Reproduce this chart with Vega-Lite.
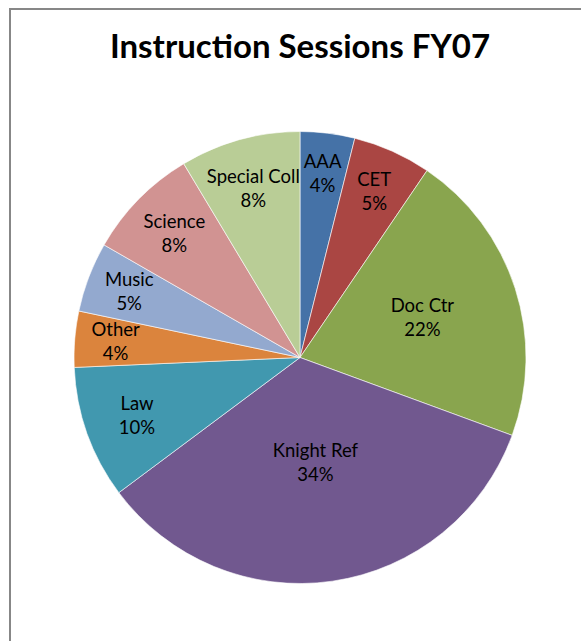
{
  "$schema": "https://vega.github.io/schema/vega-lite/v6.json",
  "width": 580,
  "height": 697,
  "autosize": {"type": "none"},
  "padding": {"left": 10, "top": 9, "right": 0, "bottom": 0},
  "background": "white",
  "view": {"stroke": "#878787", "strokeWidth": 2, "fill": "white"},
  "title": {"text": "Instruction Sessions FY07", "font": "Lato", "fontSize": 33, "fontWeight": "bold", "color": "#000000", "offset": -56, "anchor": "middle", "frame": "group"},
  "data": {"values": [
    {"name": "AAA", "pct": "4%", "value": 3.9, "rank": 1},
    {"name": "CET", "pct": "5%", "value": 5.6, "rank": 2},
    {"name": "Doc Ctr", "pct": "22%", "value": 21.1, "rank": 3},
    {"name": "Knight Ref", "pct": "34%", "value": 34.2, "rank": 4},
    {"name": "Law", "pct": "10%", "value": 9.5, "rank": 5},
    {"name": "Other", "pct": "4%", "value": 4.0, "rank": 6},
    {"name": "Music", "pct": "5%", "value": 5.0, "rank": 7},
    {"name": "Science", "pct": "8%", "value": 8.1, "rank": 8},
    {"name": "Special Coll", "pct": "8%", "value": 8.6, "rank": 9}
  ]},
  "encoding": {
    "theta": {"field": "value", "type": "quantitative", "stack": true},
    "order": {"field": "rank", "type": "quantitative"}
  },
  "layer": [
    {
      "mark": {"type": "arc", "outerRadius": 226, "stroke": "#ffffff", "strokeWidth": 0.6},
      "encoding": {
        "color": {"field": "name", "type": "nominal", "legend": null,
          "scale": {"domain": ["AAA", "CET", "Doc Ctr", "Knight Ref", "Law", "Other", "Music", "Science", "Special Coll"],
                    "range": ["#4572A7", "#AA4643", "#89A54E", "#71588F", "#4198AF", "#DB843D", "#93A9CF", "#D19392", "#B9CD96"]}}
      }
    },
    {
      "mark": {"type": "text", "font": "Lato", "fontSize": 18.5, "color": "#000000", "dy": -12, "baseline": "middle", "align": "center"},
      "encoding": {
        "text": {"field": "name", "type": "nominal"},
        "radius": {"field": "value", "type": "quantitative", "scale": {"type": "linear", "domain": [4, 10, 22, 34], "range": [185, 172, 125, 107], "clamp": true, "zero": false}}
      }
    },
    {
      "mark": {"type": "text", "font": "Lato", "fontSize": 18.5, "color": "#000000", "dy": 12, "baseline": "middle", "align": "center"},
      "encoding": {
        "text": {"field": "pct", "type": "nominal"},
        "radius": {"field": "value", "type": "quantitative", "scale": {"type": "linear", "domain": [4, 10, 22, 34], "range": [185, 172, 125, 107], "clamp": true, "zero": false}}
      }
    }
  ]
}
